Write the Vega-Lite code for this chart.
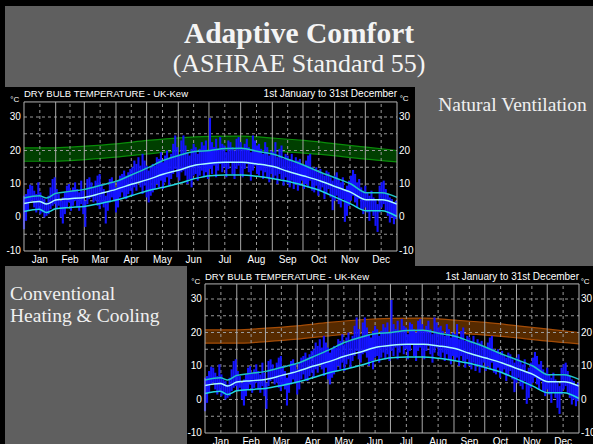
{
  "$schema": "https://vega.github.io/schema/vega-lite/v6.json",
  "background": "#000000",
  "padding": {"left": 5, "top": 6, "right": 0, "bottom": 0},
  "config": {"concat": {"spacing": 0}, "view": {"stroke": null}, "text": {"font": "Liberation Sans", "color": "#ffffff"}},
  "datasets": {
    "temps": [
      {"d":0,"lo":-3.5,"hi":6.5},{"d":2,"lo":-1.0,"hi":7.0},{"d":4,"lo":2.0,"hi":8.5},{"d":6,"lo":4.5,"hi":9.8},{"d":8,"lo":5.0,"hi":9.5},
      {"d":10,"lo":3.0,"hi":8.0},{"d":12,"lo":1.5,"hi":7.0},{"d":14,"lo":2.5,"hi":10.5},{"d":16,"lo":1.0,"hi":7.5},{"d":18,"lo":1.5,"hi":6.0},
      {"d":20,"lo":0.0,"hi":5.5},{"d":22,"lo":0.5,"hi":4.5},{"d":24,"lo":1.0,"hi":6.5},{"d":26,"lo":2.5,"hi":9.0},{"d":28,"lo":3.5,"hi":11.5},
      {"d":30,"lo":4.0,"hi":12.0},{"d":32,"lo":2.5,"hi":8.5},{"d":34,"lo":3.5,"hi":7.0},{"d":36,"lo":0.0,"hi":5.0},{"d":38,"lo":-1.8,"hi":6.0},
      {"d":40,"lo":1.0,"hi":7.5},{"d":42,"lo":3.0,"hi":9.5},{"d":44,"lo":4.5,"hi":10.0},{"d":46,"lo":2.0,"hi":8.0},{"d":48,"lo":3.5,"hi":9.0},
      {"d":50,"lo":5.0,"hi":10.5},{"d":52,"lo":3.0,"hi":8.5},{"d":54,"lo":2.0,"hi":7.5},{"d":56,"lo":4.0,"hi":11.0},{"d":58,"lo":1.0,"hi":8.0},
      {"d":60,"lo":-2.8,"hi":5.0},{"d":62,"lo":4.0,"hi":11.5},{"d":64,"lo":5.5,"hi":12.0},{"d":66,"lo":6.0,"hi":10.5},{"d":68,"lo":4.5,"hi":9.0},
      {"d":70,"lo":5.0,"hi":11.0},{"d":72,"lo":3.5,"hi":12.5},{"d":74,"lo":2.5,"hi":13.0},{"d":76,"lo":4.0,"hi":10.0},{"d":78,"lo":3.0,"hi":8.5},
      {"d":80,"lo":-1.8,"hi":6.5},{"d":82,"lo":2.0,"hi":8.0},{"d":84,"lo":4.5,"hi":11.5},{"d":86,"lo":6.0,"hi":12.0},{"d":88,"lo":5.0,"hi":10.5},
      {"d":90,"lo":1.5,"hi":9.0},{"d":92,"lo":3.0,"hi":11.0},{"d":94,"lo":6.0,"hi":12.5},{"d":96,"lo":7.5,"hi":13.0},{"d":98,"lo":6.0,"hi":14.0},
      {"d":100,"lo":5.5,"hi":12.5},{"d":102,"lo":7.0,"hi":13.5},{"d":104,"lo":8.0,"hi":14.5},{"d":106,"lo":6.5,"hi":15.0},{"d":108,"lo":9.0,"hi":17.0},
      {"d":110,"lo":8.0,"hi":16.0},{"d":112,"lo":10.5,"hi":18.0},{"d":114,"lo":9.0,"hi":15.5},{"d":116,"lo":7.0,"hi":19.0},{"d":118,"lo":9.5,"hi":17.0},
      {"d":120,"lo":6.0,"hi":15.5},{"d":122,"lo":4.5,"hi":14.0},{"d":124,"lo":6.5,"hi":15.0},{"d":126,"lo":7.5,"hi":16.0},{"d":128,"lo":8.5,"hi":15.5},
      {"d":130,"lo":10.0,"hi":18.0},{"d":132,"lo":9.0,"hi":17.5},{"d":134,"lo":11.0,"hi":19.5},{"d":136,"lo":8.5,"hi":16.5},{"d":138,"lo":10.5,"hi":18.5},
      {"d":140,"lo":12.0,"hi":20.0},{"d":142,"lo":9.5,"hi":17.5},{"d":144,"lo":11.5,"hi":19.0},{"d":146,"lo":13.0,"hi":22.0},{"d":148,"lo":14.5,"hi":24.5},
      {"d":150,"lo":12.0,"hi":21.0},{"d":152,"lo":11.0,"hi":18.5},{"d":154,"lo":13.5,"hi":23.0},{"d":156,"lo":14.0,"hi":24.5},{"d":158,"lo":12.5,"hi":21.5},
      {"d":160,"lo":10.0,"hi":19.5},{"d":162,"lo":11.5,"hi":18.5},{"d":164,"lo":9.0,"hi":20.5},{"d":166,"lo":12.5,"hi":22.0},{"d":168,"lo":13.0,"hi":21.0},
      {"d":170,"lo":11.0,"hi":19.0},{"d":172,"lo":12.5,"hi":20.5},{"d":174,"lo":14.0,"hi":22.5},{"d":176,"lo":12.0,"hi":21.5},{"d":178,"lo":13.5,"hi":23.0},
      {"d":180,"lo":11.5,"hi":20.0},{"d":182,"lo":14.5,"hi":29.7},{"d":184,"lo":13.0,"hi":22.5},{"d":186,"lo":15.5,"hi":21.0},{"d":188,"lo":12.0,"hi":23.5},
      {"d":190,"lo":14.0,"hi":20.5},{"d":192,"lo":16.0,"hi":24.0},{"d":194,"lo":13.5,"hi":22.0},{"d":196,"lo":15.0,"hi":21.5},{"d":198,"lo":12.0,"hi":19.5},
      {"d":200,"lo":14.5,"hi":23.0},{"d":202,"lo":16.5,"hi":22.5},{"d":204,"lo":13.0,"hi":21.0},{"d":206,"lo":11.5,"hi":20.0},{"d":208,"lo":14.5,"hi":23.5},
      {"d":210,"lo":15.5,"hi":24.0},{"d":212,"lo":13.0,"hi":22.5},{"d":214,"lo":12.0,"hi":20.5},{"d":216,"lo":14.5,"hi":22.0},{"d":218,"lo":16.0,"hi":23.5},
      {"d":220,"lo":13.5,"hi":21.0},{"d":222,"lo":11.0,"hi":19.5},{"d":224,"lo":14.0,"hi":24.5},{"d":226,"lo":15.5,"hi":23.0},{"d":228,"lo":13.0,"hi":21.5},
      {"d":230,"lo":12.5,"hi":22.0},{"d":232,"lo":14.0,"hi":20.5},{"d":234,"lo":11.5,"hi":19.0},{"d":236,"lo":13.5,"hi":22.5},{"d":238,"lo":12.0,"hi":21.0},
      {"d":240,"lo":10.5,"hi":18.5},{"d":242,"lo":13.0,"hi":20.0},{"d":244,"lo":11.5,"hi":19.5},{"d":246,"lo":12.5,"hi":22.5},{"d":248,"lo":10.0,"hi":18.0},
      {"d":250,"lo":13.0,"hi":20.5},{"d":252,"lo":11.5,"hi":21.5},{"d":254,"lo":9.5,"hi":17.5},{"d":256,"lo":12.0,"hi":19.0},{"d":258,"lo":10.0,"hi":18.5},
      {"d":260,"lo":9.0,"hi":17.5},{"d":262,"lo":11.0,"hi":19.0},{"d":264,"lo":8.5,"hi":16.5},{"d":266,"lo":10.0,"hi":18.0},{"d":268,"lo":8.0,"hi":17.0},
      {"d":270,"lo":9.5,"hi":17.5},{"d":272,"lo":11.0,"hi":16.0},{"d":274,"lo":8.5,"hi":15.5},{"d":276,"lo":10.0,"hi":17.0},{"d":278,"lo":9.0,"hi":18.5},
      {"d":280,"lo":11.0,"hi":19.0},{"d":282,"lo":8.0,"hi":15.0},{"d":284,"lo":7.5,"hi":14.5},{"d":286,"lo":9.5,"hi":15.0},{"d":288,"lo":6.5,"hi":13.5},
      {"d":290,"lo":8.0,"hi":14.5},{"d":292,"lo":9.0,"hi":13.0},{"d":294,"lo":5.5,"hi":12.5},{"d":296,"lo":7.0,"hi":14.0},{"d":298,"lo":8.5,"hi":13.5},
      {"d":300,"lo":6.0,"hi":12.0},{"d":302,"lo":2.2,"hi":11.0},{"d":304,"lo":5.0,"hi":12.5},{"d":306,"lo":6.5,"hi":13.5},{"d":308,"lo":4.0,"hi":11.5},
      {"d":310,"lo":3.0,"hi":10.5},{"d":312,"lo":5.5,"hi":12.0},{"d":314,"lo":-1.3,"hi":8.5},{"d":316,"lo":0.5,"hi":9.5},{"d":318,"lo":3.5,"hi":11.0},
      {"d":320,"lo":5.0,"hi":12.5},{"d":322,"lo":6.5,"hi":14.2},{"d":324,"lo":4.5,"hi":13.0},{"d":326,"lo":3.0,"hi":10.5},{"d":328,"lo":5.5,"hi":11.5},
      {"d":330,"lo":2.5,"hi":9.0},{"d":332,"lo":1.0,"hi":8.0},{"d":334,"lo":3.0,"hi":9.5},{"d":336,"lo":1.5,"hi":7.5},{"d":338,"lo":-1.0,"hi":6.5},
      {"d":340,"lo":2.0,"hi":8.0},{"d":342,"lo":0.5,"hi":6.0},{"d":344,"lo":-2.5,"hi":5.5},{"d":346,"lo":-4.3,"hi":4.0},{"d":348,"lo":1.5,"hi":9.5},
      {"d":350,"lo":3.0,"hi":10.5},{"d":352,"lo":4.0,"hi":11.0},{"d":354,"lo":2.0,"hi":8.5},{"d":356,"lo":0.5,"hi":7.0},{"d":358,"lo":-1.5,"hi":6.0},
      {"d":360,"lo":0.0,"hi":5.5},{"d":362,"lo":-2.0,"hi":4.5},{"d":364,"lo":-0.5,"hi":5.0}
    ],
    "lines": [
      {"d":0,"up":5.8,"mid":4.2,"low":1.8},{"d":15,"up":6.5,"mid":4.8,"low":2.5},{"d":22,"up":5.8,"mid":4.0,"low":1.5},
      {"d":31,"up":7.2,"mid":5.2,"low":2.6},{"d":45,"up":7.8,"mid":5.6,"low":3.0},{"d":59,"up":8.4,"mid":6.0,"low":3.3},
      {"d":75,"up":9.6,"mid":7.2,"low":4.2},{"d":90,"up":10.8,"mid":8.4,"low":5.2},{"d":105,"up":12.7,"mid":9.9,"low":6.5},
      {"d":121,"up":14.8,"mid":11.3,"low":8.0},{"d":136,"up":17.0,"mid":12.9,"low":9.0},{"d":152,"up":18.6,"mid":14.2,"low":10.2},
      {"d":167,"up":19.7,"mid":15.6,"low":11.6},{"d":182,"up":20.0,"mid":16.2,"low":12.5},{"d":197,"up":20.6,"mid":16.5,"low":12.7},
      {"d":213,"up":20.7,"mid":16.5,"low":12.7},{"d":228,"up":19.8,"mid":16.0,"low":12.3},{"d":244,"up":18.9,"mid":15.2,"low":11.6},
      {"d":258,"up":17.4,"mid":13.8,"low":10.8},{"d":274,"up":15.6,"mid":12.4,"low":9.5},{"d":290,"up":13.5,"mid":10.9,"low":8.0},
      {"d":305,"up":11.8,"mid":9.2,"low":6.0},{"d":320,"up":10.0,"mid":7.5,"low":4.0},{"d":335,"up":7.4,"mid":5.3,"low":2.0},
      {"d":350,"up":7.4,"mid":5.3,"low":2.0},{"d":365,"up":6.0,"mid":4.0,"low":0.3}
    ],
    "band": [
      {"d":0,"blo":16.8,"bhi":20.8},{"d":30,"blo":16.8,"bhi":20.8},{"d":60,"blo":17.3,"bhi":21.3},{"d":90,"blo":18.0,"bhi":22.0},
      {"d":121,"blo":19.0,"bhi":23.0},{"d":152,"blo":19.8,"bhi":23.8},{"d":182,"blo":20.1,"bhi":24.2},{"d":213,"blo":20.1,"bhi":24.3},
      {"d":244,"blo":19.8,"bhi":23.7},{"d":274,"blo":19.2,"bhi":23.0},{"d":305,"blo":18.4,"bhi":22.0},{"d":335,"blo":17.4,"bhi":21.0},
      {"d":365,"blo":16.6,"bhi":20.0}
    ],
    "months": [
      {"m":"Jan","s":0,"c":15.5},{"m":"Feb","s":31,"c":45},{"m":"Mar","s":59,"c":74.5},{"m":"Apr","s":90,"c":105},
      {"m":"May","s":120,"c":135.5},{"m":"Jun","s":151,"c":166},{"m":"Jul","s":181,"c":196.5},{"m":"Aug","s":212,"c":227.5},
      {"m":"Sep","s":243,"c":258},{"m":"Oct","s":273,"c":288.5},{"m":"Nov","s":304,"c":319},{"m":"Dec","s":334,"c":349.5}
    ],
    "yt": [{"v":-10,"s":"-10"},{"v":0,"s":"0"},{"v":10,"s":"10"},{"v":20,"s":"20"},{"v":30,"s":"30"}],
    "hg": [{"v":-5},{"v":0},{"v":5},{"v":10},{"v":15},{"v":20},{"v":25},{"v":30}],
    "hdr": [{"l":"DRY BULB TEMPERATURE - UK-Kew","r":"1st January to 31st December","u":"°C"}]
  },
  "spacing": 0,
  "vconcat": [
    {
      "width": 588, "height": 81,
      "view": {"fill": "#5f5f5f", "stroke": null},
      "data": {"values": []},
      "mark": "text",
      "title": {"text": "Adaptive Comfort", "subtitle": "(ASHRAE Standard 55)", "anchor": "middle", "frame": "group", "offset": -72,
        "font": "Liberation Serif", "fontSize": 29.5, "fontWeight": "bold", "color": "#f4f4f4",
        "subtitleFont": "Liberation Serif", "subtitleFontSize": 26, "subtitleColor": "#f4f4f4", "subtitlePadding": 2}
    },
    {
      "bounds": "flush", "spacing": 0,
      "hconcat": [
        {
          "width": 410, "height": 179,
          "view": {"fill": "#000000", "stroke": null},
          "layer": [
            {"data": {"name": "band"}, "mark": {"type": "area", "color": "#003f00", "interpolate": "monotone"},
             "encoding": {"x": {"field": "d", "type": "quantitative", "scale": {"domain": [-18.59, 382.61], "nice": false, "zero": false}, "axis": null},
                          "y": {"field": "blo", "type": "quantitative", "scale": {"domain": [-14.48, 38.96], "nice": false, "zero": false}, "axis": null},
                          "y2": {"field": "bhi"}}},
            {"data": {"name": "band"}, "mark": {"type": "line", "color": "#0a8c0a", "strokeWidth": 1.2, "interpolate": "monotone"},
             "encoding": {"x": {"field": "d", "type": "quantitative", "scale": {"domain": [-18.59, 382.61], "nice": false, "zero": false}, "axis": null},
                          "y": {"field": "blo", "type": "quantitative", "scale": {"domain": [-14.48, 38.96], "nice": false, "zero": false}, "axis": null}}},
            {"data": {"name": "band"}, "mark": {"type": "line", "color": "#0a8c0a", "strokeWidth": 1.2, "interpolate": "monotone"},
             "encoding": {"x": {"field": "d", "type": "quantitative", "scale": {"domain": [-18.59, 382.61], "nice": false, "zero": false}, "axis": null},
                          "y": {"field": "bhi", "type": "quantitative", "scale": {"domain": [-14.48, 38.96], "nice": false, "zero": false}, "axis": null}}},
            {"data": {"name": "hg"}, "mark": {"type": "rule", "color": "#9a9a9a", "strokeDash": [3, 3], "strokeWidth": 1},
             "encoding": {"y": {"field": "v", "type": "quantitative", "scale": {"domain": [-14.48, 38.96], "nice": false, "zero": false}, "axis": null},
                          "x": {"datum": 0, "type": "quantitative", "scale": {"domain": [-18.59, 382.61], "nice": false, "zero": false}, "axis": null},
                          "x2": {"datum": 365}}},
            {"data": {"name": "months"}, "transform": [{"filter": "datum.s > 0"}], "mark": {"type": "rule", "color": "#a8a8a8", "strokeWidth": 1},
             "encoding": {"x": {"field": "s", "type": "quantitative", "scale": {"domain": [-18.59, 382.61], "nice": false, "zero": false}, "axis": null},
                          "y": {"datum": -10, "type": "quantitative", "scale": {"domain": [-14.48, 38.96], "nice": false, "zero": false}, "axis": null},
                          "y2": {"datum": 34.5}}},
            {"data": {"name": "months"}, "mark": {"type": "rule", "color": "#9a9a9a", "strokeDash": [3, 3], "strokeWidth": 1},
             "encoding": {"x": {"field": "c", "type": "quantitative", "scale": {"domain": [-18.59, 382.61], "nice": false, "zero": false}, "axis": null},
                          "y": {"datum": -10, "type": "quantitative", "scale": {"domain": [-14.48, 38.96], "nice": false, "zero": false}, "axis": null},
                          "y2": {"datum": 34.5}}},
            {"data": {"name": "temps"}, "mark": {"type": "rule", "color": "#1414ff", "strokeWidth": 2.1},
             "encoding": {"x": {"field": "d", "type": "quantitative", "scale": {"domain": [-18.59, 382.61], "nice": false, "zero": false}, "axis": null},
                          "y": {"field": "lo", "type": "quantitative", "scale": {"domain": [-14.48, 38.96], "nice": false, "zero": false}, "axis": null},
                          "y2": {"field": "hi"}}},
            {"data": {"name": "lines"}, "mark": {"type": "line", "color": "#1fc4c8", "strokeWidth": 1.5, "interpolate": "monotone"},
             "encoding": {"x": {"field": "d", "type": "quantitative", "scale": {"domain": [-18.59, 382.61], "nice": false, "zero": false}, "axis": null},
                          "y": {"field": "up", "type": "quantitative", "scale": {"domain": [-14.48, 38.96], "nice": false, "zero": false}, "axis": null}}},
            {"data": {"name": "lines"}, "mark": {"type": "line", "color": "#a8fcff", "strokeWidth": 1.5, "interpolate": "monotone"},
             "encoding": {"x": {"field": "d", "type": "quantitative", "scale": {"domain": [-18.59, 382.61], "nice": false, "zero": false}, "axis": null},
                          "y": {"field": "mid", "type": "quantitative", "scale": {"domain": [-14.48, 38.96], "nice": false, "zero": false}, "axis": null}}},
            {"data": {"name": "lines"}, "mark": {"type": "line", "color": "#22d8e0", "strokeWidth": 1.5, "interpolate": "monotone"},
             "encoding": {"x": {"field": "d", "type": "quantitative", "scale": {"domain": [-18.59, 382.61], "nice": false, "zero": false}, "axis": null},
                          "y": {"field": "low", "type": "quantitative", "scale": {"domain": [-14.48, 38.96], "nice": false, "zero": false}, "axis": null}}},
            {"data": {"name": "hdr"}, "mark": {"type": "rect", "filled": false, "stroke": "#b4b4b4", "strokeWidth": 1},
             "encoding": {"x": {"datum": 0, "type": "quantitative", "scale": {"domain": [-18.59, 382.61], "nice": false, "zero": false}, "axis": null},
                          "x2": {"datum": 365},
                          "y": {"datum": -10, "type": "quantitative", "scale": {"domain": [-14.48, 38.96], "nice": false, "zero": false}, "axis": null},
                          "y2": {"datum": 34.5}}},
            {"data": {"name": "yt"}, "mark": {"type": "text", "align": "right", "baseline": "middle", "fontSize": 10},
             "encoding": {"x": {"datum": -3, "type": "quantitative", "scale": {"domain": [-18.59, 382.61], "nice": false, "zero": false}, "axis": null},
                          "y": {"field": "v", "type": "quantitative", "scale": {"domain": [-14.48, 38.96], "nice": false, "zero": false}, "axis": null},
                          "text": {"field": "s"}}},
            {"data": {"name": "yt"}, "mark": {"type": "text", "align": "left", "baseline": "middle", "fontSize": 10},
             "encoding": {"x": {"datum": 367, "type": "quantitative", "scale": {"domain": [-18.59, 382.61], "nice": false, "zero": false}, "axis": null},
                          "y": {"field": "v", "type": "quantitative", "scale": {"domain": [-14.48, 38.96], "nice": false, "zero": false}, "axis": null},
                          "text": {"field": "s"}}},
            {"data": {"name": "months"}, "mark": {"type": "text", "align": "center", "baseline": "middle", "fontSize": 10},
             "encoding": {"x": {"field": "c", "type": "quantitative", "scale": {"domain": [-18.59, 382.61], "nice": false, "zero": false}, "axis": null},
                          "y": {"datum": -12.7, "type": "quantitative", "scale": {"domain": [-14.48, 38.96], "nice": false, "zero": false}, "axis": null},
                          "text": {"field": "m"}}},
            {"data": {"name": "hdr"}, "mark": {"type": "text", "align": "left", "baseline": "middle", "fontSize": 9.5},
             "encoding": {"x": {"datum": 0, "type": "quantitative", "scale": {"domain": [-18.59, 382.61], "nice": false, "zero": false}, "axis": null},
                          "y": {"datum": 36.9, "type": "quantitative", "scale": {"domain": [-14.48, 38.96], "nice": false, "zero": false}, "axis": null},
                          "text": {"field": "l"}}},
            {"data": {"name": "hdr"}, "mark": {"type": "text", "align": "right", "baseline": "middle", "fontSize": 10},
             "encoding": {"x": {"datum": 365, "type": "quantitative", "scale": {"domain": [-18.59, 382.61], "nice": false, "zero": false}, "axis": null},
                          "y": {"datum": 36.9, "type": "quantitative", "scale": {"domain": [-14.48, 38.96], "nice": false, "zero": false}, "axis": null},
                          "text": {"field": "r"}}},
            {"data": {"name": "hdr"}, "mark": {"type": "text", "align": "center", "baseline": "middle", "fontSize": 8},
             "encoding": {"x": {"datum": -9, "type": "quantitative", "scale": {"domain": [-18.59, 382.61], "nice": false, "zero": false}, "axis": null},
                          "y": {"datum": 35.2, "type": "quantitative", "scale": {"domain": [-14.48, 38.96], "nice": false, "zero": false}, "axis": null},
                          "text": {"field": "u"}}},
            {"data": {"name": "hdr"}, "mark": {"type": "text", "align": "center", "baseline": "middle", "fontSize": 8},
             "encoding": {"x": {"datum": 372, "type": "quantitative", "scale": {"domain": [-18.59, 382.61], "nice": false, "zero": false}, "axis": null},
                          "y": {"datum": 35.4, "type": "quantitative", "scale": {"domain": [-14.48, 38.96], "nice": false, "zero": false}, "axis": null},
                          "text": {"field": "u"}}}
          ]
        },
        {
          "width": 178, "height": 179,
          "view": {"fill": "#5f5f5f", "stroke": null},
          "data": {"values": []},
          "mark": "text",
          "title": {"text": "Natural Ventilation", "anchor": "middle", "frame": "group", "offset": -28, "dx": 8.5,
            "font": "Liberation Serif", "fontSize": 19.5, "fontWeight": "normal", "color": "#f0f0f0"}
        }
      ]
    },
    {
      "bounds": "flush", "spacing": 0,
      "hconcat": [
        {
          "width": 182, "height": 178,
          "view": {"fill": "#5f5f5f", "stroke": null},
          "data": {"values": []},
          "mark": "text",
          "title": {"text": ["Conventional", "Heating & Cooling"], "anchor": "start", "frame": "group", "offset": -60, "dx": 5,
            "font": "Liberation Serif", "fontSize": 19.5, "fontWeight": "normal", "color": "#f0f0f0", "lineHeight": 22}
        },
        {
          "width": 406, "height": 178,
          "view": {"fill": "#000000", "stroke": null},
          "layer": [
            {"data": {"name": "band"}, "mark": {"type": "area", "color": "#562a00", "interpolate": "monotone"},
             "encoding": {"x": {"field": "d", "type": "quantitative", "scale": {"domain": [-17.57, 378.66], "nice": false, "zero": false}, "axis": null},
                          "y": {"field": "blo", "type": "quantitative", "scale": {"domain": [-13.28, 39.85], "nice": false, "zero": false}, "axis": null},
                          "y2": {"field": "bhi"}}},
            {"data": {"name": "band"}, "mark": {"type": "line", "color": "#a44c06", "strokeWidth": 1.2, "interpolate": "monotone"},
             "encoding": {"x": {"field": "d", "type": "quantitative", "scale": {"domain": [-17.57, 378.66], "nice": false, "zero": false}, "axis": null},
                          "y": {"field": "blo", "type": "quantitative", "scale": {"domain": [-13.28, 39.85], "nice": false, "zero": false}, "axis": null}}},
            {"data": {"name": "band"}, "mark": {"type": "line", "color": "#a44c06", "strokeWidth": 1.2, "interpolate": "monotone"},
             "encoding": {"x": {"field": "d", "type": "quantitative", "scale": {"domain": [-17.57, 378.66], "nice": false, "zero": false}, "axis": null},
                          "y": {"field": "bhi", "type": "quantitative", "scale": {"domain": [-13.28, 39.85], "nice": false, "zero": false}, "axis": null}}},
            {"data": {"name": "hg"}, "mark": {"type": "rule", "color": "#9a9a9a", "strokeDash": [3, 3], "strokeWidth": 1},
             "encoding": {"y": {"field": "v", "type": "quantitative", "scale": {"domain": [-13.28, 39.85], "nice": false, "zero": false}, "axis": null},
                          "x": {"datum": 0, "type": "quantitative", "scale": {"domain": [-17.57, 378.66], "nice": false, "zero": false}, "axis": null},
                          "x2": {"datum": 365}}},
            {"data": {"name": "months"}, "transform": [{"filter": "datum.s > 0"}], "mark": {"type": "rule", "color": "#a8a8a8", "strokeWidth": 1},
             "encoding": {"x": {"field": "s", "type": "quantitative", "scale": {"domain": [-17.57, 378.66], "nice": false, "zero": false}, "axis": null},
                          "y": {"datum": -10, "type": "quantitative", "scale": {"domain": [-13.28, 39.85], "nice": false, "zero": false}, "axis": null},
                          "y2": {"datum": 34.5}}},
            {"data": {"name": "months"}, "mark": {"type": "rule", "color": "#9a9a9a", "strokeDash": [3, 3], "strokeWidth": 1},
             "encoding": {"x": {"field": "c", "type": "quantitative", "scale": {"domain": [-17.57, 378.66], "nice": false, "zero": false}, "axis": null},
                          "y": {"datum": -10, "type": "quantitative", "scale": {"domain": [-13.28, 39.85], "nice": false, "zero": false}, "axis": null},
                          "y2": {"datum": 34.5}}},
            {"data": {"name": "temps"}, "mark": {"type": "rule", "color": "#1414ff", "strokeWidth": 2.1},
             "encoding": {"x": {"field": "d", "type": "quantitative", "scale": {"domain": [-17.57, 378.66], "nice": false, "zero": false}, "axis": null},
                          "y": {"field": "lo", "type": "quantitative", "scale": {"domain": [-13.28, 39.85], "nice": false, "zero": false}, "axis": null},
                          "y2": {"field": "hi"}}},
            {"data": {"name": "lines"}, "mark": {"type": "line", "color": "#1fc4c8", "strokeWidth": 1.5, "interpolate": "monotone"},
             "encoding": {"x": {"field": "d", "type": "quantitative", "scale": {"domain": [-17.57, 378.66], "nice": false, "zero": false}, "axis": null},
                          "y": {"field": "up", "type": "quantitative", "scale": {"domain": [-13.28, 39.85], "nice": false, "zero": false}, "axis": null}}},
            {"data": {"name": "lines"}, "mark": {"type": "line", "color": "#a8fcff", "strokeWidth": 1.5, "interpolate": "monotone"},
             "encoding": {"x": {"field": "d", "type": "quantitative", "scale": {"domain": [-17.57, 378.66], "nice": false, "zero": false}, "axis": null},
                          "y": {"field": "mid", "type": "quantitative", "scale": {"domain": [-13.28, 39.85], "nice": false, "zero": false}, "axis": null}}},
            {"data": {"name": "lines"}, "mark": {"type": "line", "color": "#22d8e0", "strokeWidth": 1.5, "interpolate": "monotone"},
             "encoding": {"x": {"field": "d", "type": "quantitative", "scale": {"domain": [-17.57, 378.66], "nice": false, "zero": false}, "axis": null},
                          "y": {"field": "low", "type": "quantitative", "scale": {"domain": [-13.28, 39.85], "nice": false, "zero": false}, "axis": null}}},
            {"data": {"name": "hdr"}, "mark": {"type": "rect", "filled": false, "stroke": "#b4b4b4", "strokeWidth": 1},
             "encoding": {"x": {"datum": 0, "type": "quantitative", "scale": {"domain": [-17.57, 378.66], "nice": false, "zero": false}, "axis": null},
                          "x2": {"datum": 365},
                          "y": {"datum": -10, "type": "quantitative", "scale": {"domain": [-13.28, 39.85], "nice": false, "zero": false}, "axis": null},
                          "y2": {"datum": 34.5}}},
            {"data": {"name": "yt"}, "mark": {"type": "text", "align": "right", "baseline": "middle", "fontSize": 10},
             "encoding": {"x": {"datum": -3, "type": "quantitative", "scale": {"domain": [-17.57, 378.66], "nice": false, "zero": false}, "axis": null},
                          "y": {"field": "v", "type": "quantitative", "scale": {"domain": [-13.28, 39.85], "nice": false, "zero": false}, "axis": null},
                          "text": {"field": "s"}}},
            {"data": {"name": "yt"}, "mark": {"type": "text", "align": "left", "baseline": "middle", "fontSize": 10},
             "encoding": {"x": {"datum": 367, "type": "quantitative", "scale": {"domain": [-17.57, 378.66], "nice": false, "zero": false}, "axis": null},
                          "y": {"field": "v", "type": "quantitative", "scale": {"domain": [-13.28, 39.85], "nice": false, "zero": false}, "axis": null},
                          "text": {"field": "s"}}},
            {"data": {"name": "months"}, "mark": {"type": "text", "align": "center", "baseline": "middle", "fontSize": 10},
             "encoding": {"x": {"field": "c", "type": "quantitative", "scale": {"domain": [-17.57, 378.66], "nice": false, "zero": false}, "axis": null},
                          "y": {"datum": -12.6, "type": "quantitative", "scale": {"domain": [-13.28, 39.85], "nice": false, "zero": false}, "axis": null},
                          "text": {"field": "m"}}},
            {"data": {"name": "hdr"}, "mark": {"type": "text", "align": "left", "baseline": "middle", "fontSize": 9.5},
             "encoding": {"x": {"datum": 0, "type": "quantitative", "scale": {"domain": [-17.57, 378.66], "nice": false, "zero": false}, "axis": null},
                          "y": {"datum": 36.6, "type": "quantitative", "scale": {"domain": [-13.28, 39.85], "nice": false, "zero": false}, "axis": null},
                          "text": {"field": "l"}}},
            {"data": {"name": "hdr"}, "mark": {"type": "text", "align": "right", "baseline": "middle", "fontSize": 10},
             "encoding": {"x": {"datum": 365, "type": "quantitative", "scale": {"domain": [-17.57, 378.66], "nice": false, "zero": false}, "axis": null},
                          "y": {"datum": 36.6, "type": "quantitative", "scale": {"domain": [-13.28, 39.85], "nice": false, "zero": false}, "axis": null},
                          "text": {"field": "r"}}},
            {"data": {"name": "hdr"}, "mark": {"type": "text", "align": "center", "baseline": "middle", "fontSize": 8},
             "encoding": {"x": {"datum": -9, "type": "quantitative", "scale": {"domain": [-17.57, 378.66], "nice": false, "zero": false}, "axis": null},
                          "y": {"datum": 35.0, "type": "quantitative", "scale": {"domain": [-13.28, 39.85], "nice": false, "zero": false}, "axis": null},
                          "text": {"field": "u"}}},
            {"data": {"name": "hdr"}, "mark": {"type": "text", "align": "center", "baseline": "middle", "fontSize": 8},
             "encoding": {"x": {"datum": 371, "type": "quantitative", "scale": {"domain": [-17.57, 378.66], "nice": false, "zero": false}, "axis": null},
                          "y": {"datum": 35.0, "type": "quantitative", "scale": {"domain": [-13.28, 39.85], "nice": false, "zero": false}, "axis": null},
                          "text": {"field": "u"}}}
          ]
        }
      ]
    }
  ]
}
